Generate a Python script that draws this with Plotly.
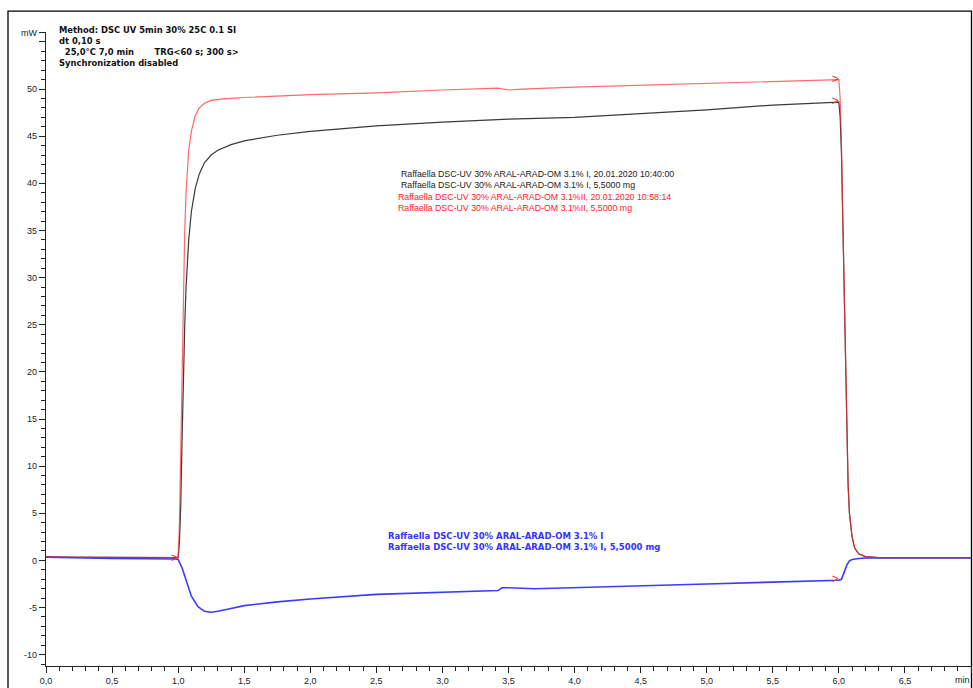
import plotly.graph_objects as go

# Sample I (black): heat flow in mW against time in min
t_black = [0, 0.5, 0.98, 1.0, 1.01, 1.02, 1.03, 1.04, 1.05, 1.06, 1.08, 1.10, 1.13, 1.16,
           1.2, 1.25, 1.3, 1.4, 1.5, 1.75, 2.0, 2.5, 3.0, 3.5, 4.0, 4.5, 5.0, 5.5, 5.9, 6.0,
           6.01, 6.02, 6.03, 6.04, 6.05, 6.06, 6.07, 6.08, 6.1, 6.12, 6.15, 6.2, 6.3, 6.5, 7.0]
y_black = [0.35, 0.3, 0.25, 0.3, 2, 6, 13, 20, 25, 29, 34, 37, 39.5, 41,
           42.2, 43.0, 43.5, 44.1, 44.5, 45.1, 45.5, 46.1, 46.5, 46.8, 47.0, 47.4, 47.8, 48.3, 48.6, 48.6,
           47, 43, 36, 28, 20, 13, 8, 5, 2.5, 1.3, 0.7, 0.4, 0.3, 0.3, 0.3]

# Sample II (red)
t_red = [0, 0.5, 0.98, 1.0, 1.01, 1.02, 1.03, 1.04, 1.05, 1.06, 1.08, 1.10, 1.13, 1.16,
         1.2, 1.25, 1.3, 1.4, 1.5, 2.0, 2.5, 3.0, 3.35, 3.42, 3.5, 3.6, 4.0, 4.5, 5.0, 5.5, 6.0,
         6.01, 6.02, 6.03, 6.04, 6.05, 6.06, 6.07, 6.08, 6.1, 6.12, 6.15, 6.2, 6.3, 6.5, 7.0]
y_red = [0.35, 0.3, 0.25, 0.3, 4, 12, 21, 29, 35, 39, 43.5, 45.5, 47.2, 48.0,
         48.5, 48.8, 48.9, 49.0, 49.1, 49.4, 49.6, 49.9, 50.1, 50.1, 49.9, 50.0, 50.2, 50.4, 50.6, 50.8, 51.0,
         49, 44, 36, 28, 20, 13, 8, 5, 2.5, 1.3, 0.7, 0.4, 0.3, 0.3, 0.3]

# Sample I second signal (blue)
t_blue = [0, 0.5, 0.98, 1.0, 1.03, 1.06, 1.1, 1.15, 1.2, 1.25, 1.3, 1.4, 1.5, 1.75, 2.0, 2.5,
          3.0, 3.35, 3.42, 3.45, 3.5, 3.7, 4.0, 4.5, 5.0, 5.5, 6.0, 6.02, 6.04, 6.06, 6.08,
          6.1, 6.15, 6.2, 6.5, 7.0]
y_blue = [0.35, 0.2, 0.15, 0.1, -0.8, -2.2, -3.8, -4.9, -5.4, -5.5, -5.4, -5.1, -4.8, -4.4, -4.1, -3.6,
          -3.4, -3.3, -3.2, -2.9, -2.9, -3.0, -2.9, -2.7, -2.5, -2.3, -2.1, -2.0, -1.3, -0.5, -0.05,
          0.1, 0.2, 0.25, 0.25, 0.25]

# Axis ticks (the last x tick carries the unit, written separately)
x_tickvals = [0, 0.5, 1.0, 1.5, 2.0, 2.5, 3.0, 3.5, 4.0, 4.5, 5.0, 5.5, 6.0, 6.5, 7.0]
x_ticktext = ["0,0", "0,5", "1,0", "1,5", "2,0", "2,5", "3,0", "3,5", "4,0", "4,5",
              "5,0", "5,5", "6,0", "6,5", ""]
x_unit = "min"
y_tickvals = [-10, -5, 0, 5, 10, 15, 20, 25, 30, 35, 40, 45, 50, 55, 56]
y_ticktext = ["-10", "-5", "0", "5", "10", "15", "20", "25", "30", "35", "40", "45", "50", "", "mW"]

header_lines = ["Method: DSC UV 5min 30% 25C 0.1 SI",
                "dt 0,10 s",
                "&nbsp;&nbsp;25,0°C 7,0 min&nbsp;&nbsp;&nbsp;&nbsp;&nbsp;&nbsp;&nbsp;TRG&lt;60 s; 300 s&gt;",
                "Synchronization disabled"]
black_labels = ["Raffaella DSC-UV 30% ARAL-ARAD-OM 3.1% I, 20.01.2020 10:40:00",
                "Raffaella DSC-UV 30% ARAL-ARAD-OM 3.1% I, 5,5000 mg"]
red_labels = ["Raffaella DSC-UV 30% ARAL-ARAD-OM 3.1%II, 20.01.2020 10:58:14",
              "Raffaella DSC-UV 30% ARAL-ARAD-OM 3.1%II, 5,5000 mg"]
blue_labels = ["Raffaella DSC-UV 30% ARAL-ARAD-OM 3.1% I",
               "Raffaella DSC-UV 30% ARAL-ARAD-OM 3.1% I, 5,5000 mg"]

BLACK = "#3a3a3a"
RED = "#ff2a2a"
BLUE = "#3b3bff"
FONT = "Liberation Sans"
BOLD_FONT = "DejaVu Sans"

fig = go.Figure()
fig.add_trace(go.Scatter(x=t_blue, y=y_blue, mode="lines",
                         line=dict(color=BLUE, width=1.6), hoverinfo="skip"))
fig.add_trace(go.Scatter(x=t_black, y=y_black, mode="lines",
                         line=dict(color=BLACK, width=1.2), hoverinfo="skip"))
fig.add_trace(go.Scatter(x=t_red, y=y_red, mode="lines", opacity=0.7,
                         line=dict(color=RED, width=1.2), hoverinfo="skip"))

# Red chevrons at the start/end markers of the segments
mark_x = [t_blue[3], t_red[30], t_black[29], t_blue[26]]
mark_y = [y_blue[3], y_red[30], y_black[29], y_blue[26]]
fig.add_trace(go.Scatter(x=mark_x, y=mark_y, mode="text", text=[">"] * 4,
                         textposition="middle left",
                         textfont=dict(family=FONT, size=12, color=RED),
                         hoverinfo="skip"))

X0, W = 46, 925
Y0, H = 669, 637


def px(x):
    return (x - X0) / W


def py(y):
    return (Y0 - y) / H


ann = []
for i, s in enumerate(header_lines):
    ann.append(dict(x=px(58), y=py(30 + 11 * i), text="<b>" + s + "</b>", xanchor="left",
                    yanchor="middle", font=dict(family=BOLD_FONT, size=8.4, color="#111")))
for i, s in enumerate(black_labels):
    ann.append(dict(x=px(400), y=py(175 + 10.5 * i), text=s, xanchor="left",
                    yanchor="middle", font=dict(family=FONT, size=8.8, color="#222")))
for i, s in enumerate(red_labels):
    ann.append(dict(x=px(397), y=py(198 + 10.5 * i), text=s, xanchor="left",
                    yanchor="middle", font=dict(family=FONT, size=8.8, color="#ff1a1a")))
for i, s in enumerate(blue_labels):
    ann.append(dict(x=px(387), y=py(538 + 11 * i), text="<b>" + s + "</b>", xanchor="left",
                    yanchor="middle", font=dict(family=BOLD_FONT, size=8.5, color="#3333ff")))
ann.append(dict(x=1.0, y=py(683), text=x_unit, xanchor="right", yanchor="middle",
                font=dict(family=FONT, size=9, color="#222")))
for a in ann:
    a.update(xref="paper", yref="paper", showarrow=False, borderpad=0)

fig.update_layout(
    width=973, height=688,
    margin=dict(l=X0, r=973 - X0 - W, t=Y0 - H, b=688 - Y0),
    paper_bgcolor="white", plot_bgcolor="white",
    showlegend=False,
    annotations=ann,
    shapes=[dict(type="rect", xref="paper", yref="paper",
                 x0=px(8), x1=px(971.5), y0=py(700), y1=py(11),
                 line=dict(color="black", width=1.3), layer="below")],
    xaxis=dict(range=[0, 7.0], tickvals=x_tickvals, ticktext=x_ticktext,
               ticks="outside", ticklen=6, tickcolor="#222", tickwidth=1,
               minor=dict(dtick=0.1, tick0=0, ticks="outside", ticklen=4, tickcolor="#222"),
               showline=True, linecolor="#222", linewidth=1.2, showgrid=False, zeroline=False,
               tickfont=dict(family=FONT, size=9, color="#222")),
    yaxis=dict(range=[-11.2, 56.05], tickvals=y_tickvals, ticktext=y_ticktext,
               ticks="outside", ticklen=6, tickcolor="#222", tickwidth=1,
               minor=dict(dtick=1, tick0=0, ticks="outside", ticklen=4, tickcolor="#222"),
               showline=True, linecolor="#222", linewidth=1.2, showgrid=False, zeroline=False,
               tickfont=dict(family=FONT, size=9, color="#222")),
)

fig.write_html("out.html")
